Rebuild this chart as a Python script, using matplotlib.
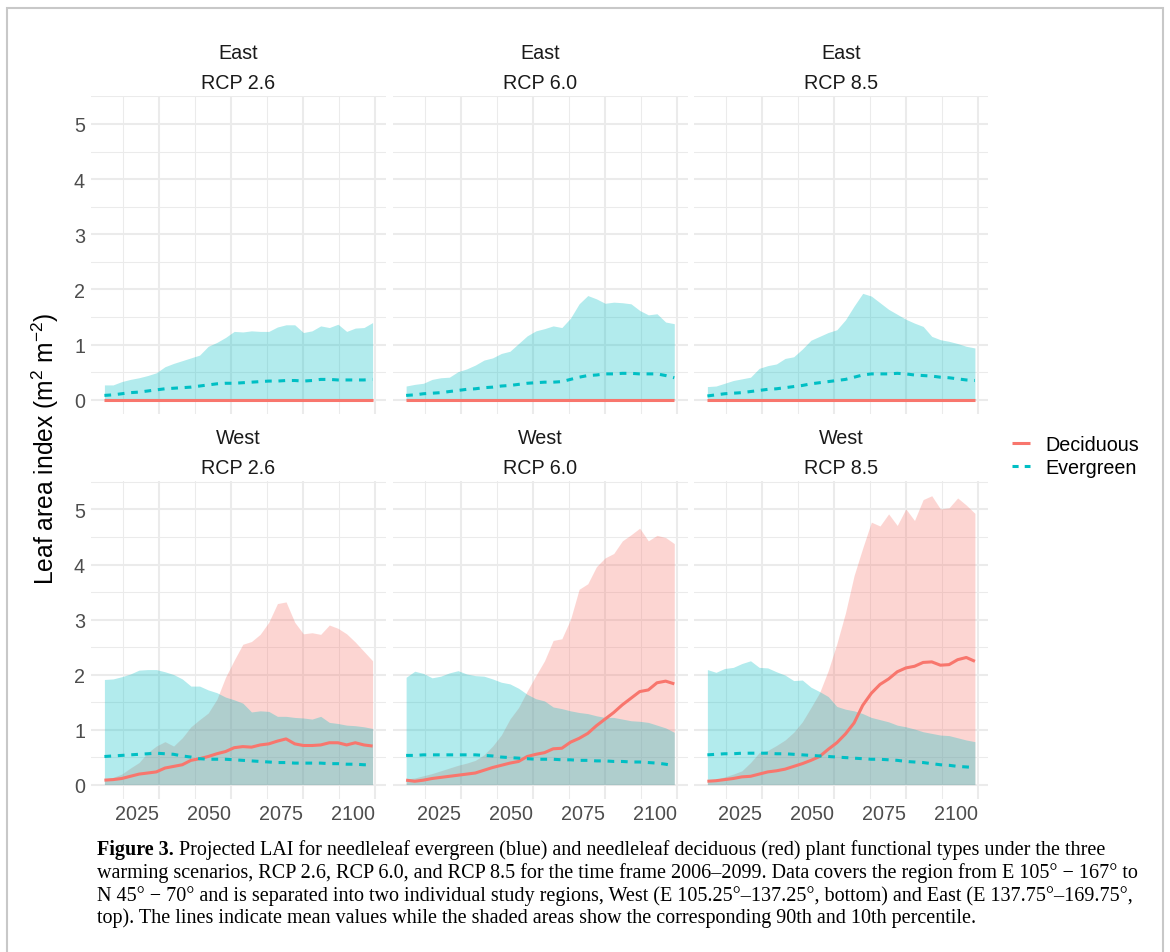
import numpy as np
import matplotlib
matplotlib.use("Agg")
import matplotlib.pyplot as plt
from matplotlib.lines import Line2D
from matplotlib.patches import Rectangle

plt.rcParams['font.family'] = ['Liberation Sans', 'DejaVu Sans']
plt.rcParams['mathtext.fontset'] = 'custom'
plt.rcParams['mathtext.rm'] = 'Liberation Sans'
plt.rcParams['mathtext.it'] = 'Liberation Sans:italic'
plt.rcParams['mathtext.bf'] = 'Liberation Sans:bold'

# ---------------- data ----------------
years = [2006, 2009, 2012, 2015, 2018, 2021, 2024, 2027, 2030, 2033, 2036,
         2039, 2042, 2045, 2048, 2051, 2054, 2057, 2060, 2063, 2066, 2069,
         2072, 2075, 2078, 2081, 2084, 2087, 2090, 2093, 2096, 2099]

ribbon_floor = [0.0, 0.0, 0.0, 0.0, 0.0, 0.0, 0.0, 0.0, 0.0, 0.0, 0.0,
                0.0, 0.0, 0.0, 0.0, 0.0, 0.0, 0.0, 0.0, 0.0, 0.0, 0.0,
                0.0, 0.0, 0.0, 0.0, 0.0, 0.0, 0.0, 0.0, 0.0, 0.0]

# East: deciduous is zero everywhere
east_dec_mean = ribbon_floor
east_dec_hi = ribbon_floor

e26_ev_mean = [0.08, 0.09, 0.11, 0.13, 0.14, 0.16, 0.18, 0.20, 0.21, 0.22, 0.23,
               0.25, 0.27, 0.29, 0.30, 0.30, 0.31, 0.32, 0.33, 0.34, 0.34, 0.35,
               0.35, 0.34, 0.35, 0.37, 0.37, 0.36, 0.36, 0.36, 0.36, 0.37]
e26_ev_hi = [0.27, 0.27, 0.33, 0.37, 0.40, 0.44, 0.49, 0.60, 0.66, 0.71, 0.76,
             0.81, 0.97, 1.04, 1.13, 1.24, 1.23, 1.25, 1.24, 1.24, 1.32, 1.36,
             1.36, 1.22, 1.25, 1.34, 1.31, 1.37, 1.24, 1.30, 1.31, 1.40]

e60_ev_mean = [0.08, 0.09, 0.11, 0.12, 0.13, 0.15, 0.17, 0.19, 0.20, 0.22, 0.23,
               0.25, 0.26, 0.28, 0.30, 0.31, 0.32, 0.32, 0.33, 0.37, 0.41, 0.44,
               0.45, 0.47, 0.47, 0.48, 0.48, 0.47, 0.47, 0.47, 0.44, 0.40]
e60_ev_hi = [0.25, 0.28, 0.30, 0.37, 0.40, 0.41, 0.51, 0.56, 0.63, 0.72, 0.76,
             0.84, 0.88, 1.02, 1.16, 1.25, 1.29, 1.34, 1.31, 1.48, 1.74, 1.89,
             1.83, 1.75, 1.77, 1.76, 1.74, 1.62, 1.54, 1.56, 1.41, 1.38]

e85_ev_mean = [0.07, 0.09, 0.11, 0.12, 0.13, 0.15, 0.17, 0.19, 0.20, 0.22, 0.24,
               0.26, 0.29, 0.31, 0.33, 0.35, 0.37, 0.41, 0.45, 0.47, 0.47, 0.47,
               0.48, 0.47, 0.45, 0.44, 0.43, 0.41, 0.40, 0.38, 0.36, 0.35]
e85_ev_hi = [0.24, 0.25, 0.30, 0.35, 0.38, 0.41, 0.57, 0.62, 0.65, 0.75, 0.78,
             0.92, 1.08, 1.15, 1.22, 1.27, 1.45, 1.70, 1.93, 1.88, 1.76, 1.64,
             1.55, 1.46, 1.39, 1.33, 1.15, 1.09, 1.06, 1.02, 0.97, 0.94]

w26_dec_mean = [0.08, 0.09, 0.11, 0.15, 0.19, 0.21, 0.23, 0.30, 0.33, 0.36, 0.44,
                0.47, 0.51, 0.56, 0.60, 0.67, 0.69, 0.68, 0.72, 0.74, 0.79, 0.83,
                0.74, 0.71, 0.71, 0.72, 0.76, 0.76, 0.72, 0.76, 0.72, 0.70]
w26_dec_hi = [0.10, 0.13, 0.19, 0.30, 0.40, 0.58, 0.70, 0.78, 0.70, 0.85, 1.05,
              1.18, 1.30, 1.55, 1.95, 2.26, 2.55, 2.60, 2.73, 2.95, 3.29, 3.32,
              2.95, 2.74, 2.76, 2.73, 2.90, 2.84, 2.74, 2.59, 2.42, 2.25]
w26_ev_mean = [0.51, 0.52, 0.53, 0.54, 0.55, 0.56, 0.57, 0.56, 0.55, 0.52, 0.50,
               0.47, 0.46, 0.46, 0.46, 0.45, 0.44, 0.43, 0.42, 0.41, 0.40, 0.40,
               0.39, 0.39, 0.39, 0.39, 0.38, 0.38, 0.37, 0.37, 0.36, 0.36]
w26_ev_hi = [1.91, 1.92, 1.96, 2.01, 2.08, 2.09, 2.09, 2.05, 2.00, 1.92, 1.79,
             1.79, 1.72, 1.67, 1.59, 1.54, 1.48, 1.32, 1.34, 1.33, 1.24, 1.24,
             1.22, 1.21, 1.19, 1.24, 1.13, 1.11, 1.08, 1.07, 1.05, 1.02]

w60_dec_mean = [0.08, 0.06, 0.08, 0.11, 0.13, 0.15, 0.17, 0.19, 0.21, 0.26, 0.31,
                0.35, 0.39, 0.42, 0.51, 0.55, 0.58, 0.65, 0.66, 0.77, 0.84, 0.93,
                1.07, 1.19, 1.31, 1.45, 1.57, 1.69, 1.72, 1.85, 1.88, 1.83]
w60_dec_hi = [0.10, 0.12, 0.16, 0.20, 0.25, 0.30, 0.35, 0.39, 0.44, 0.54, 0.70,
              0.90, 1.19, 1.40, 1.70, 1.98, 2.25, 2.62, 2.65, 3.00, 3.55, 3.65,
              3.96, 4.12, 4.20, 4.43, 4.54, 4.66, 4.43, 4.53, 4.49, 4.38]
w60_ev_mean = [0.53, 0.53, 0.54, 0.54, 0.54, 0.54, 0.54, 0.54, 0.54, 0.53, 0.52,
               0.50, 0.49, 0.48, 0.47, 0.46, 0.46, 0.46, 0.45, 0.45, 0.44, 0.44,
               0.43, 0.43, 0.42, 0.42, 0.41, 0.41, 0.40, 0.39, 0.37, 0.34]
w60_ev_hi = [1.95, 2.06, 2.02, 1.94, 1.97, 2.03, 2.07, 2.01, 1.98, 1.97, 1.92,
             1.86, 1.83, 1.75, 1.64, 1.56, 1.52, 1.41, 1.38, 1.34, 1.31, 1.29,
             1.25, 1.22, 1.22, 1.19, 1.16, 1.15, 1.13, 1.08, 1.03, 0.95]

w85_dec_mean = [0.06, 0.07, 0.09, 0.11, 0.14, 0.15, 0.19, 0.23, 0.25, 0.28, 0.33,
                0.38, 0.44, 0.51, 0.64, 0.76, 0.92, 1.12, 1.44, 1.66, 1.82, 1.92,
                2.05, 2.12, 2.15, 2.22, 2.23, 2.17, 2.18, 2.27, 2.31, 2.24]
w85_dec_hi = [0.04, 0.09, 0.14, 0.19, 0.25, 0.40, 0.58, 0.62, 0.71, 0.81, 0.95,
              1.14, 1.40, 1.67, 2.07, 2.56, 3.12, 3.80, 4.30, 4.77, 4.70, 4.92,
              4.71, 5.01, 4.80, 5.18, 5.25, 5.01, 5.03, 5.21, 5.08, 4.93]
w85_ev_mean = [0.54, 0.55, 0.56, 0.56, 0.57, 0.57, 0.57, 0.57, 0.56, 0.56, 0.55,
               0.54, 0.53, 0.52, 0.51, 0.50, 0.49, 0.48, 0.47, 0.46, 0.46, 0.45,
               0.44, 0.42, 0.41, 0.40, 0.38, 0.36, 0.35, 0.33, 0.32, 0.31]
w85_ev_hi = [2.09, 2.04, 2.11, 2.13, 2.20, 2.25, 2.13, 2.12, 2.05, 1.99, 1.89,
             1.90, 1.77, 1.69, 1.60, 1.42, 1.37, 1.34, 1.29, 1.22, 1.18, 1.14,
             1.08, 1.05, 1.01, 0.96, 0.93, 0.90, 0.89, 0.85, 0.81, 0.78]

regions = ["East", "West"]
scenarios = ["RCP 2.6", "RCP 6.0", "RCP 8.5"]
series_names = ["Deciduous", "Evergreen"]
x_ticks = [2025, 2050, 2075, 2100]
x_tick_labels = ["2025", "2050", "2075", "2100"]
y_ticks = [0, 1, 2, 3, 4, 5]
y_tick_labels = ["0", "1", "2", "3", "4", "5"]

# panel -> (dec_mean, dec_lo, dec_hi, ev_mean, ev_lo, ev_hi)
panels = {
    ("East", "RCP 2.6"): (east_dec_mean, ribbon_floor, east_dec_hi, e26_ev_mean, ribbon_floor, e26_ev_hi),
    ("East", "RCP 6.0"): (east_dec_mean, ribbon_floor, east_dec_hi, e60_ev_mean, ribbon_floor, e60_ev_hi),
    ("East", "RCP 8.5"): (east_dec_mean, ribbon_floor, east_dec_hi, e85_ev_mean, ribbon_floor, e85_ev_hi),
    ("West", "RCP 2.6"): (w26_dec_mean, ribbon_floor, w26_dec_hi, w26_ev_mean, ribbon_floor, w26_ev_hi),
    ("West", "RCP 6.0"): (w60_dec_mean, ribbon_floor, w60_dec_hi, w60_ev_mean, ribbon_floor, w60_ev_hi),
    ("West", "RCP 8.5"): (w85_dec_mean, ribbon_floor, w85_dec_hi, w85_ev_mean, ribbon_floor, w85_ev_hi),
}

# ---------------- style / layout ----------------
RED = "#F8766D"
CYAN = "#00BFC4"
GRID = "#EBEBEB"
W, H, DPI = 1170, 953, 100

fig = plt.figure(figsize=(W / DPI, H / DPI), dpi=DPI)
fig.patch.set_facecolor("white")


def fx(px):
    return px / W


def fy(py):
    return 1 - py / H


col_lr = [(91.0, 386.0), (392.7, 687.7), (694.0, 988.3)]
row_tb = [(96.7, 415.3), (482.3, 800.0)]
strip_base = [(59.0, 88.7), (444.0, 474.0)]

TICK_FS = 14.2
LINE_W = 2.2
DASH = (2.2, 2.2)

for r, region in enumerate(regions):
    for c, scen in enumerate(scenarios):
        l, rr = col_lr[c]
        t, b = row_tb[r]
        ax = fig.add_axes([fx(l), fy(b), (rr - l) / W, (b - t) / H])
        dm, dl, dh, em, el, eh = panels[(region, scen)]
        ax.fill_between(years, dl, dh, color=RED, alpha=0.3, lw=0)
        ax.fill_between(years, el, eh, color=CYAN, alpha=0.3, lw=0)
        ax.plot(years, dm, color=RED, lw=LINE_W, solid_capstyle="butt")
        ax.plot(years, em, color=CYAN, lw=LINE_W, dashes=DASH, dash_capstyle="butt")

        ax.set_xlim(2001.35, 2103.65)
        ax.set_ylim(-0.2625, 5.5125)
        ax.set_xticks(x_ticks)
        ax.set_xticks([2012.5, 2037.5, 2062.5, 2087.5], minor=True)
        ax.set_yticks(y_ticks)
        ax.set_yticks([0.5, 1.5, 2.5, 3.5, 4.5, 5.5], minor=True)
        ax.grid(which="major", color=GRID, lw=1.45)
        ax.grid(which="minor", color=GRID, lw=0.75)
        ax.set_axisbelow(True)
        for s in ax.spines.values():
            s.set_visible(False)
        ax.set_facecolor("none")
        ax.tick_params(which="both", length=0, labelsize=TICK_FS, labelcolor="#4D4D4D")
        ax.tick_params(axis="y", pad=4.3)
        ax.tick_params(axis="x", pad=3.6)
        if c == 0:
            ax.set_yticklabels(y_tick_labels)
        else:
            ax.tick_params(labelleft=False)
        if r == 1:
            ax.set_xticklabels(x_tick_labels, ha="right")
        else:
            ax.tick_params(labelbottom=False)

        cx = fx((l + rr) / 2)
        fig.text(cx, fy(strip_base[r][0]), region, ha="center", va="baseline",
                 fontsize=TICK_FS, color="#1A1A1A")
        fig.text(cx, fy(strip_base[r][1]), scen, ha="center", va="baseline",
                 fontsize=TICK_FS, color="#1A1A1A")

# y axis title
fig.text(fx(45), fy(448.5), r"Leaf area index (m$^2$ m$^{-2}$)", rotation=90,
         ha="center", va="center", fontsize=17.7, color="black")

# legend
leg_y = [443.5, 466.7]
for name, col, yy, dashed in zip(series_names, [RED, CYAN], leg_y, [False, True]):
    kw = dict(dashes=(2.0, 2.0)) if dashed else {}
    ln = Line2D([fx(1011.7), fx(1030.0)], [fy(yy), fy(yy)], transform=fig.transFigure,
                color=col, lw=LINE_W, solid_capstyle="butt", dash_capstyle="butt", **kw)
    fig.add_artist(ln)
    fig.text(fx(1045), fy(yy + 7.2), name, ha="left", va="baseline", fontsize=TICK_FS, color="black")

# frame
fig.add_artist(Rectangle((fx(7), fy(1000)), (1163 - 7) / W, (1000 - 9) / H,
                         transform=fig.transFigure, fill=False, ec="#C8C8C8", lw=1.5))

# caption
cap_lines = [
    ("Figure 3.", " Projected LAI for needleleaf evergreen (blue) and needleleaf deciduous (red) plant functional types under the three"),
    ("", "warming scenarios, RCP 2.6, RCP 6.0, and RCP 8.5 for the time frame 2006\u20132099. Data covers the region from E 105\u00b0 \u2212 167\u00b0 to"),
    ("", "N 45\u00b0 \u2212 70\u00b0 and is separated into two individual study regions, West (E 105.25\u00b0\u2013137.25\u00b0, bottom) and East (E 137.75\u00b0\u2013169.75\u00b0,"),
    ("", "top). The lines indicate mean values while the shaded areas show the corresponding 90th and 10th percentile."),
]
cap_base = [855.0, 878.0, 901.0, 923.5]
cap_right = [1066.0, 1142.0, 1163.0, 962.0]
CAP_X = 97.0
renderer = fig.canvas.get_renderer()


def draw_caption(size):
    arts, widths = [], []
    for (bold, rest), yb in zip(cap_lines, cap_base):
        x = CAP_X
        if bold:
            tb = fig.text(fx(x), fy(yb), bold, fontfamily="Liberation Serif", fontweight="bold",
                          fontsize=size, ha="left", va="baseline", color="black")
            x += tb.get_window_extent(renderer).width
            arts.append(tb)
        tr = fig.text(fx(x), fy(yb), rest, fontfamily="Liberation Serif", fontsize=size,
                      ha="left", va="baseline", color="black")
        widths.append(x + tr.get_window_extent(renderer).width - CAP_X)
        arts.append(tr)
    return arts, widths


arts, widths = draw_caption(13.0)
target = sum(cr - CAP_X for cr in cap_right)
size = 13.0 * target / sum(widths)
for a in arts:
    a.remove()
draw_caption(size)

fig.savefig("out.png", dpi=DPI)
